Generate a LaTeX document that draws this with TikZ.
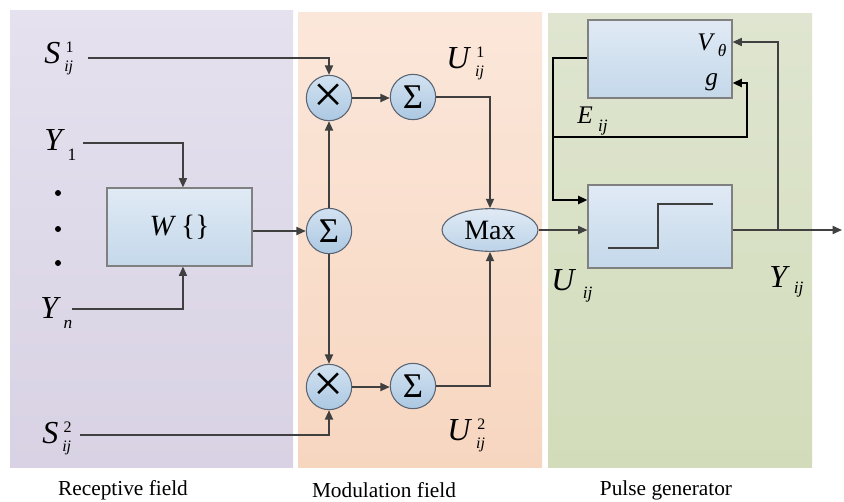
\documentclass[tikz,border=0pt]{standalone}
\usepackage{fontspec}
\setmainfont{Liberation Serif}
\usetikzlibrary{arrows.meta,shapes.geometric,calc}
\definecolor{lncol}{RGB}{64,64,64}
\definecolor{purT}{RGB}{229,225,238}
\definecolor{purB}{RGB}{216,210,228}
\definecolor{orT}{RGB}{251,231,218}
\definecolor{orB}{RGB}{247,214,192}
\definecolor{grT}{RGB}{223,229,208}
\definecolor{grB}{RGB}{210,220,186}
\definecolor{boxT}{RGB}{224,234,245}
\definecolor{boxB}{RGB}{196,216,234}
\definecolor{boxD}{RGB}{128,128,128}
\definecolor{cirT}{RGB}{210,226,241}
\definecolor{cirB}{RGB}{172,200,226}
\definecolor{cirD}{RGB}{90,100,115}
\newcommand\lblud[3]{\textit{#1}\kern3pt{\fontsize{12}{12}\selectfont\begin{tabular}[c]{@{}l@{}}\kern1pt#2\\[2.5pt]\textit{#3}\end{tabular}}}
\newcommand\lbld[4]{\textit{#1}\kern#4\raisebox{-#3}{\fontsize{13}{13}\selectfont\itshape #2}}
\begin{document}
\begin{tikzpicture}[x=0.75pt,y=-0.75pt,
 line/.style={draw=lncol,line width=1.3pt},
 arr/.style={line,-{Triangle[length=7pt,width=6pt]}},
 bline/.style={draw=black,line width=1.6pt,line join=miter},
 barr/.style={bline,-{Triangle[length=7pt,width=6pt]}},
 blk/.style={draw=boxD,line width=0.8pt,top color=boxT,bottom color=boxB,inner sep=0},
 opc/.style={circle,draw=cirD,line width=0.8pt,top color=cirT,bottom color=cirB,minimum size=34pt,inner sep=0},
 lab/.style={anchor=base west,inner sep=0,font=\fontsize{24}{26}\selectfont},
 slab/.style={anchor=base west,inner sep=0,font=\fontsize{19}{21}\selectfont},
 captxt/.style={inner sep=0,font=\fontsize{16}{18}\selectfont}]
\useasboundingbox (0,0) rectangle (844,501);
\fill[white] (0,0) rectangle (844,501);
% panels
\fill[top color=purT,bottom color=purB] (10,10) rectangle (293,467);
\fill[top color=orT,bottom color=orB] (298,12) rectangle (542,467);
\fill[top color=grT,bottom color=grB] (548,13) rectangle (812,467);
% blocks
\node[blk,minimum width=108.75pt,minimum height=58.5pt,font=\fontsize{22}{24}\selectfont] (W) at (179.5,227) {\textit{W}\,\{\}};
\node[blk,minimum width=108pt,minimum height=58.5pt] (T) at (660,59) {};
\node[blk,minimum width=108pt,minimum height=62.25pt] (P) at (660,226.5) {};
\node[opc,font=\fontsize{40}{40}\selectfont] (mA) at (329,98) {×};
\node[opc,font=\fontsize{26}{26}\selectfont] (sA) at (413,97) {Σ};
\node[opc,font=\fontsize{26}{26}\selectfont] (sM) at (329,231) {Σ};
\node[opc,font=\fontsize{40}{40}\selectfont] (mB) at (329,387) {×};
\node[opc,font=\fontsize{26}{26}\selectfont] (sB) at (413,386) {Σ};
\node[ellipse,draw=cirD,line width=0.8pt,top color=boxT,bottom color=cirB!80!white,minimum width=72pt,minimum height=32pt,inner sep=0,font=\fontsize{21}{21}\selectfont] (mx) at (490,230) {Max};
% labels
\node[lab] (lS1) at (44,63) {\lblud{S}{1}{ij}};
\node[lab] (lY1) at (44,150) {\lbld{Y}{\upshape 1}{8pt}{2pt}};
\node[lab] (lYn) at (40,318) {\lbld{Y}{n}{8pt}{2pt}};
\node[lab] (lS2) at (42,443) {\lblud{S}{2}{ij}};
\node[lab] (lU1) at (446,68) {\lblud{U}{1}{ij}};
\node[lab] (lU2) at (447,440) {\lblud{U}{2}{ij}};
\node[lab] (lU) at (551,290) {\lbld{U}{ij}{6pt}{5pt}};
\node[lab] (lY) at (769,287) {\lbld{Y}{ij}{5pt}{3pt}};
\node[slab] (lE) at (577,123) {\lbld{E}{ij}{6pt}{4pt}};
\node[slab] (lV) at (697,50) {\lbld{V}{θ}{5pt}{2pt}};
\node[slab] (lg) at (705,85) {\textit{g}};
% dots
\foreach \yy/\nm in {193/d1,229/d2,263/d3} \fill (58,\yy) circle (3) coordinate (\nm);
% input coordinates
\coordinate (s1in) at (88,58);
\coordinate (y1in) at (83,143);
\coordinate (ynin) at (72,309);
\coordinate (s2in) at (80,435);
\coordinate (out) at (842,230);
\coordinate (fb) at (778,230);
% connectors
\draw[arr] (s1in) -| (mA.north);
\draw[arr] (y1in) -| ([xshift=2.6pt]W.north);
\draw[arr] (ynin) -| ([xshift=2.6pt]W.south);
\draw[arr] (s2in) -| (mB.south);
\draw[arr] (W.east |- sM.west) -- (sM.west);
\draw[arr] (sM.north) -- (mA.south);
\draw[arr] (sM.south) -- (mB.north);
\draw[arr] (mA.east) -- (sA.west |- mA.east);
\draw[arr] (mB.east) -- (sB.west |- mB.east);
\draw[arr] (sA.east) -| (mx.north);
\draw[arr] (sB.east) -| (mx.south);
\draw[arr] (mx.east) -- (mx.east -| P.west);
\draw[arr] (P.east |- out) -- (out);
\draw[arr] (fb) |- ($(T.east)+(0,-17)$);
\draw[barr] ($(T.west)+(0,-1)$) -- (553,58) -- (553,200) -- (P.west |- 0,200);
\draw[barr] (553,137) -- (747,137) -- (747,83) -- (T.east |- 0,83);
% step function
\draw[draw=lncol,line width=0.8pt] (608,248) -- (658,248) -- (658,204) -- (713,204);
% captions
\node[captxt] (c1) at (123,490) {Receptive field};
\node[captxt] (c2) at (384,490) {Modulation field};
\node[captxt] (c3) at (666,490) {Pulse generator};
\end{tikzpicture}
\end{document}
